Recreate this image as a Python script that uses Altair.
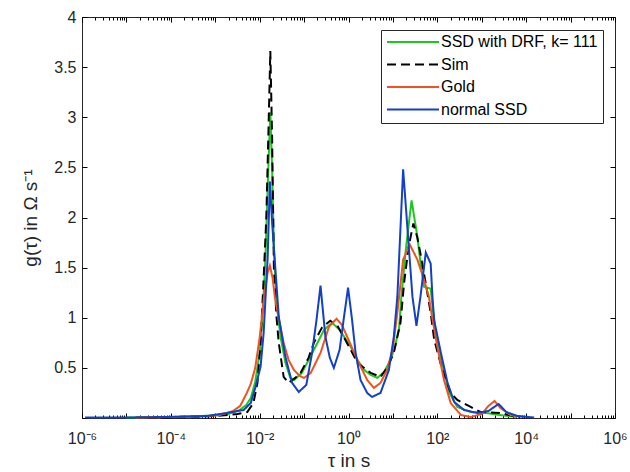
import altair as alt
import pandas as pd

# ---------------- data ----------------
series_names = ["SSD with DRF, k= 111", "Sim", "Gold", "normal SSD"]
series_colors = ["#1cc81c", "#000000", "#f4511e", "#1240c8"]
series_dashes = [[1, 0], [9, 5], [1, 0], [1, 0]]

drf_log_tau = [-5.0, -4.0, -3.0, -2.7, -2.45, -2.3, -2.2, -2.1, -2.0, -1.93, -1.87, -1.82, -1.76,
               -1.72, -1.68, -1.62, -1.53, -1.42, -1.31, -1.22, -1.05, -0.85, -0.71, -0.55, -0.37,
               -0.2, 0.05, 0.2, 0.35, 0.5, 0.65, 0.8, 0.95, 1.05, 1.14, 1.19, 1.29, 1.42, 1.55,
               1.62, 1.7, 1.78, 1.85, 1.9, 1.96, 2.11, 2.26, 2.45, 2.75, 3.1, 3.4, 3.8]
drf_g = [0.005, 0.01, 0.025, 0.04, 0.08, 0.13, 0.2, 0.36, 0.65, 1.05, 1.6, 2.3, 3.05,
         2.5, 1.7, 1.15, 0.81, 0.55, 0.40, 0.38, 0.45, 0.62, 0.74, 0.88, 0.95,
         0.88, 0.71, 0.58, 0.48, 0.43, 0.40, 0.46, 0.58, 0.72, 0.9, 1.21, 1.68, 2.17, 1.81,
         1.55, 1.31, 1.30, 1.29, 1.08, 0.88, 0.55, 0.26, 0.11, 0.06, 0.05, 0.03, 0.01]

sim_log_tau = [-4.5, -3.5, -3.0, -2.5, -2.28, -2.14, -2.05, -1.98, -1.92, -1.85, -1.8, -1.76,
               -1.72, -1.68, -1.62, -1.57, -1.46, -1.35, -1.2, -1.08, -0.9, -0.78, -0.6, -0.41,
               -0.25, -0.11, 0.05, 0.2, 0.5, 0.72, 0.87, 1.02, 1.17, 1.25, 1.35, 1.46, 1.55,
               1.62, 1.74, 1.85, 1.93, 2.1, 2.3, 2.45, 2.75, 2.97, 3.4, 3.72, 3.85]
sim_g = [0.005, 0.01, 0.02, 0.04, 0.06, 0.15, 0.35, 0.75, 1.3, 2.0, 2.9, 3.66,
         2.8, 1.5, 1.0, 0.75, 0.41, 0.35, 0.40, 0.45, 0.60, 0.75, 0.90, 0.97,
         0.92, 0.81, 0.68, 0.55, 0.45, 0.41, 0.50, 0.65, 0.95, 1.34, 1.70, 1.94, 1.80,
         1.64, 1.34, 1.05, 0.78, 0.50, 0.25, 0.18, 0.11, 0.06, 0.05, 0.02, 0.01]

gold_log_tau = [-4.8, -4.0, -3.3, -2.89, -2.6, -2.44, -2.3, -2.2, -2.1, -2.0, -1.91, -1.82, -1.77,
                -1.71, -1.65, -1.55, -1.46, -1.35, -1.23, -1.1, -1.0, -0.85, -0.63, -0.44, -0.27,
                -0.15, -0.03, 0.2, 0.42, 0.57, 0.72, 0.87, 1.0, 1.1, 1.23, 1.38, 1.55, 1.7, 1.81,
                1.87, 2.0, 2.15, 2.3, 2.53, 2.75, 3.0, 3.15, 3.29, 3.42, 3.65, 3.95]
gold_g = [0.005, 0.01, 0.015, 0.03, 0.07, 0.12, 0.24, 0.34, 0.5, 0.8, 1.18, 1.45, 1.52,
          1.4, 1.18, 0.95, 0.75, 0.58, 0.48, 0.42, 0.40, 0.45, 0.65, 0.91, 0.99,
          0.93, 0.81, 0.58, 0.38, 0.30, 0.35, 0.48, 0.70, 1.05, 1.58, 1.73, 1.58, 1.38, 1.21,
          1.04, 0.71, 0.38, 0.15, 0.03, 0.01, 0.04, 0.12, 0.17, 0.10, 0.03, 0.01]

ssd_log_tau = [-5.93, -5.0, -4.17, -3.19, -2.74, -2.36, -2.2, -2.1, -1.98, -1.91, -1.82, -1.77,
               -1.72, -1.57, -1.42, -1.27, -1.12, -0.95, -0.82, -0.72, -0.63, -0.52, -0.42,
               -0.33, -0.2, -0.11, -0.01, 0.08, 0.16, 0.27, 0.42, 0.53, 0.72, 0.91, 1.02, 1.1,
               1.23, 1.44, 1.53, 1.62, 1.74, 1.85, 1.89, 1.93, 2.08, 2.23, 2.38, 2.6, 2.9, 3.15,
               3.38, 3.55, 3.8, 4.18]
ssd_g = [0.005, 0.005, 0.01, 0.02, 0.05, 0.08, 0.15, 0.3, 0.51, 0.85, 1.6, 2.36,
         1.95, 1.01, 0.61, 0.35, 0.26, 0.33, 0.65, 0.98, 1.32, 0.81, 0.60,
         0.50, 0.68, 0.98, 1.30, 0.98, 0.65, 0.38, 0.25, 0.21, 0.25, 0.48, 0.81, 1.21,
         2.48, 1.21, 0.92, 1.21, 1.65, 1.54, 1.21, 0.97, 0.65, 0.35, 0.16, 0.08, 0.05, 0.07,
         0.14, 0.06, 0.02, 0.005]

y_ticks = [0, 0.5, 1, 1.5, 2, 2.5, 3, 3.5, 4]
x_label_exps = [-6, -4, -2, 0, 2, 4, 6]
x_tick_labels = ["10⁻⁶", "10⁻⁴", "10⁻²", "10⁰", "10²", "10⁴", "10⁶"]

# ---------------- build table ----------------
all_x = [drf_log_tau, sim_log_tau, gold_log_tau, ssd_log_tau]
all_y = [drf_g, sim_g, gold_g, ssd_g]
rows = []
for name, xs_, ys_ in zip(series_names, all_x, all_y):
    for i, (e, v) in enumerate(zip(xs_, ys_)):
        rows.append({"series": name, "tau": 10.0 ** e, "g": v, "i": i})
df = pd.DataFrame(rows)

decades = [10.0 ** k for k in range(-6, 7)]
minors = [m * 10.0 ** k for k in range(-6, 6) for m in range(2, 10)]

e_expr = "round(log(datum.value)/LN10)"
x_label_expr = " : ".join(f"{e_expr} == {e} ? '{lab}'" for e, lab in zip(x_label_exps, x_tick_labels)) + " : ''"

FONT = "Liberation Sans"
AX = "#262626"
W, H = 533, 401

xs = alt.Scale(type="log", domain=[1e-6, 1e6], nice=False)
ys = alt.Scale(domain=[0, 4], nice=False, zero=False)

common = dict(domain=False, grid=False, ticks=True, tickColor="black", tickWidth=1)

bottom_major = alt.Axis(orient="bottom", values=decades, tickSize=5, offset=-5,
                        labelExpr=x_label_expr, labelFlush=False, labelOverlap=False,
                        labelPadding=12, labelFont=FONT, labelFontSize=16, labelColor=AX,
                        title="τ in s", titleFont=FONT, titleFontSize=19, titleFontWeight="normal",
                        titleColor=AX, titleX=W / 2, titleY=47, titleBaseline="middle", **common)
bottom_minor = alt.Axis(orient="bottom", values=minors, tickSize=3, offset=-3, labels=False,
                        title="", **common)
top_major = alt.Axis(orient="top", values=decades, tickSize=5, offset=-5, labels=False,
                     title="", **common)
top_minor = alt.Axis(orient="top", values=minors, tickSize=3, offset=-3, labels=False,
                     title="", **common)
left_axis = alt.Axis(orient="left", values=y_ticks, tickSize=5, offset=-5,
                     labelExpr="datum.value == 0 ? '' : format(datum.value, '~g')",
                     labelPadding=6, labelFont=FONT, labelFontSize=16, labelColor=AX,
                     title="g(τ) in Ω s⁻¹", titleFont=FONT, titleFontSize=19,
                     titleFontWeight="normal", titleColor=AX, titleX=-57, titleY=H / 2,
                     titleAlign="center", titleBaseline="middle", **common)
right_axis = alt.Axis(orient="right", values=y_ticks, tickSize=5, offset=-5, labels=False,
                      title="", **common)

legend = alt.Legend(title=None, orient="none", legendX=299, legendY=13,
                    fillColor="white", strokeColor=AX, padding=5,
                    symbolType="stroke", symbolSize=2704, symbolStrokeWidth=2,
                    clipHeight=14, rowPadding=6.5,
                    labelFont=FONT, labelFontSize=16, labelColor="black",
                    labelOffset=1, labelLimit=400)

color = alt.Color("series:N", scale=alt.Scale(domain=series_names, range=series_colors), legend=legend)
dash = alt.StrokeDash("series:N", scale=alt.Scale(domain=series_names, range=series_dashes), legend=legend)

x_axes = [bottom_major, bottom_minor, top_major, top_minor]
y_axes = [left_axis, right_axis, None, None]

layers = []
for k, name in enumerate(series_names):
    layers.append(
        alt.Chart(df).transform_filter(alt.datum.series == name).mark_line(strokeWidth=2).encode(
            x=alt.X("tau:Q", scale=xs, axis=x_axes[k]),
            y=alt.Y("g:Q", scale=ys, axis=y_axes[k]),
            color=color,
            strokeDash=dash,
        )
    )

chart = alt.layer(*layers).resolve_axis(
    x="independent", y="independent"
).properties(
    width=W, height=H,
    autosize=alt.AutoSizeParams(type="none"),
    padding={"left": 82, "top": 17, "right": 15, "bottom": 54},
    background="white",
).configure_view(stroke=AX, strokeWidth=1)

chart.save("out.html", embed_options={"renderer": "svg", "actions": False})
